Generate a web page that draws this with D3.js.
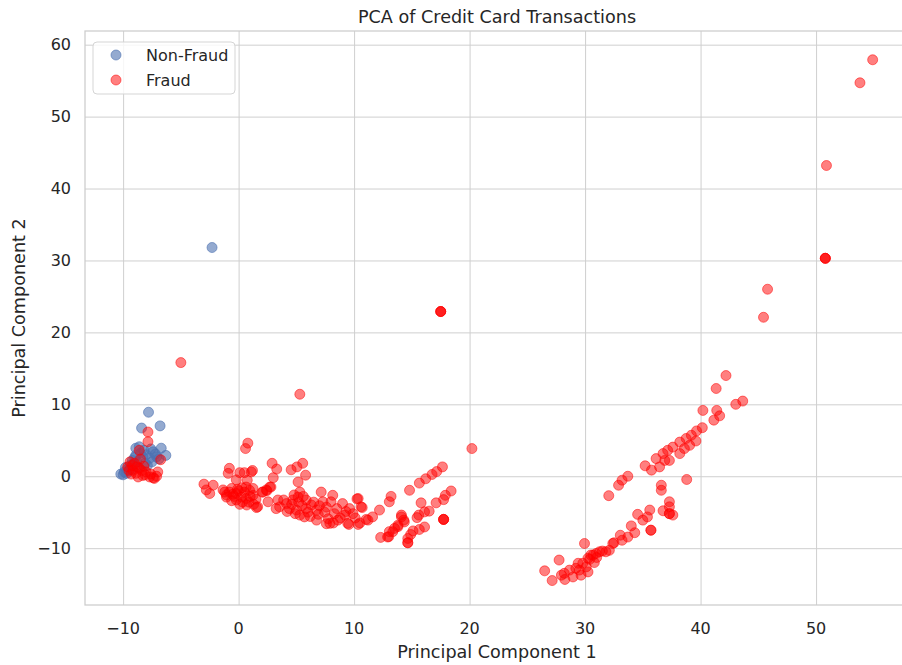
<!DOCTYPE html>
<html>
<head>
<meta charset="utf-8">
<script src="https://cdn.jsdelivr.net/npm/d3@7"></script>
<style>
  body { margin: 0; background: #fff; }
  text { font-family: "DejaVu Sans", sans-serif; fill: #262626; }
  .grid line { stroke: #cfcfcf; stroke-width: 1; }
  .grid path { display: none; }
</style>
</head>
<body>
<svg width="902" height="665"></svg>
<script>
// Non-Fraud points (PC1, PC2)
var nonFraudX = [-7.8,-8.4,-6.8,-8.9,-6.7,-6.3,-7.4,-9.9,-10.0,-9.2,-9.4,-8.3,-7.7,-7.1,-8.6,-8.1,-2.3,-9.6,-9.0,-8.8,-8.0,-7.5,-7.9,-9.7,-9.3,-8.5,-7.2,-6.9,-7.6,-8.2,-9.1,-8.7,-10.2,-9.8,-8.9];
var nonFraudY = [8.9,6.7,7.0,3.9,3.9,2.9,3.4,0.6,0.2,2.2,1.5,2.7,2.5,2.7,4.1,1.8,31.8,1.0,2.6,2.0,3.0,2.0,1.5,0.4,0.9,3.2,3.1,2.4,3.8,3.6,1.8,1.3,0.3,1.2,2.9];

// Fraud points (PC1, PC2)
var fraudX = [
  // left cluster
  -7.85,-7.85,-8.6,-6.75,-7.0,-7.3,-9.6,-9.15,-8.9,-8.3,-7.7,-9.4,-9.0,-8.6,-8.0,-7.4,-9.2,-8.8,-8.4,-9.3,-8.1,-7.6,-8.7,-9.5,-8.2,-8.5,-7.1,
  // outliers
  -5.0,5.3,17.5,17.5,17.5,20.2,50.8,50.8,50.8,50.9,53.8,54.9,45.8,45.45,42.2,
  // middle group
  0.8,0.6,-0.8,-0.9,0.1,0.5,1.1,1.2,0.75,-0.2,2.9,3.3,3.0,2.8,2.45,2.05,1.25,4.55,5.05,5.55,5.8,5.15,-3.0,-2.8,-2.5,-2.2,-1.35,-1.05,
  -0.8,-0.2,0.25,0.65,-0.2,0.35,-1.05,-0.6,0.95,1.25,0.65,-0.4,0.0,0.5,0.1,0.9,-0.6,1.5,0.3,-1.2,1.0,-0.1,0.7,1.3,-0.5,
  1.65,1.55,2.55,3.4,3.55,3.25,2.1,2.7,2.4,
  4.15,4.7,5.15,5.3,4.4,5.0,5.3,5.7,5.85,5.85,6.3,6.75,6.75,7.15,7.3,7.45,7.75,8.15,8.0,8.3,7.9,8.6,9.0,9.2,9.6,9.45,9.9,10.35,10.6,10.5,11.2,11.6,12.2,
  4.6,5.5,4.9,6.0,6.5,5.2,4.2,3.9,6.2,7.0,5.6,4.8,6.9,7.6,8.5,8.8,9.3,10.1,8.2,7.6,10.7,10.25,11.05,9.55,10.35,
  13.05,13.2,12.3,13.0,13.35,13.8,14.1,14.35,14.1,14.3,13.8,13.5,13.05,12.9,14.8,15.65,16.2,16.75,17.15,17.65,15.8,16.5,16.1,15.6,15.45,16.1,15.65,15.1,14.9,14.65,14.65,14.65,17.1,17.75,17.9,18.4,17.75,17.75,17.75,
  // right diagonal
  41.35,43.65,43.05,40.2,41.4,41.15,41.65,40.15,39.65,39.2,38.75,38.2,37.6,37.15,36.75,36.15,36.9,37.3,36.45,35.75,35.2,38.2,38.6,39.05,39.6,
  33.7,33.2,32.9,32.05,38.8,36.6,36.6,37.3,37.3,37.3,37.3,37.6,36.75,35.6,35.7,35.7,34.55,35.0,35.4,34.0,34.3,33.7,33.05,33.2,32.5,32.1,31.8,
  30.95,30.5,30.25,29.95,29.8,29.4,29.5,28.65,28.2,27.95,27.75,26.5,27.15,28.25,28.95,29.65,30.25,30.1,30.4,30.7,31.25,32.4,31.0,29.2,31.5,30.8
];
var fraudY = [
  6.15,4.8,3.6,2.3,0.6,-0.3,1.3,0.8,0.4,0.1,-0.1,2.0,1.8,1.1,0.6,-0.2,1.5,1.3,0.8,0.3,0.2,0.3,-0.1,0.8,1.4,2.4,0.0,
  15.8,11.4,22.9,22.9,22.9,3.85,30.3,30.3,30.3,43.2,54.7,57.9,26.0,22.1,14.0,
  4.6,3.85,1.1,0.4,0.5,0.5,0.6,0.8,-0.55,-0.5,1.8,1.0,-0.2,-1.5,-2.0,-2.2,-1.7,0.9,1.3,1.8,0.15,-0.8,-1.1,-1.9,-2.4,-1.25,-1.9,-2.9,
  -2.2,-2.4,-2.9,-3.1,-3.3,-3.6,-2.6,-1.7,-1.95,-2.65,-1.5,-2.8,-2.0,-2.2,-3.9,-3.6,-3.4,-3.2,-1.6,-2.2,-2.8,-1.8,-4.0,-3.9,-2.5,
  -4.25,-4.35,-3.55,-3.3,-4.25,-4.5,-2.2,-1.5,-1.9,
  -3.8,-3.3,-2.9,-2.2,-4.5,-4.7,-5.4,-5.65,-4.5,-3.3,-4.0,-4.7,-6.1,-2.2,-3.55,-5.0,-5.9,-2.65,-3.55,-5.2,-6.55,-6.1,-3.8,-5.4,-4.5,-6.55,-5.2,-3.1,-4.25,-6.5,-6.1,-5.65,-4.7,
  -3.9,-4.1,-5.2,-5.0,-3.6,-3.6,-4.9,-3.3,-5.6,-4.1,-2.8,-2.6,-5.3,-4.3,-4.5,-5.8,-4.9,-5.8,-6.5,-6.6,-4.35,-3.15,-6.0,-6.7,-6.7,
  -3.55,-2.8,-8.5,-8.4,-7.7,-7.0,-5.65,-6.35,-5.4,-6.1,-6.8,-7.25,-7.7,-8.45,-1.95,-0.95,-0.35,0.25,0.65,1.3,-3.7,-4.85,-4.95,-5.4,-5.75,-7.05,-7.4,-7.6,-8.1,-8.65,-9.25,-9.25,-3.7,-3.25,-2.65,-2.05,-6.0,-6.0,-6.0,
  12.2,10.45,10.0,9.15,9.15,7.8,8.4,6.75,6.3,5.7,5.25,4.75,4.05,3.6,3.15,2.45,2.2,2.2,1.3,0.85,1.45,3.15,3.85,4.3,4.9,
  0.0,-0.55,-1.25,-2.7,-0.45,-1.25,-1.95,-3.55,-4.25,-5.2,-5.2,-5.4,-4.8,-4.7,-7.5,-7.5,-5.3,-6.1,-5.65,-6.9,-7.85,-8.45,-8.2,-8.9,-9.25,-10.3,-10.5,
  -10.75,-10.95,-11.4,-9.35,-12.1,-12.1,-13.05,-13.05,-13.5,-13.75,-11.65,-13.15,-14.5,-14.35,-14.0,-13.75,-13.3,-12.6,-11.55,-10.95,-10.5,-9.35,-11.3,-12.8,-10.4,-12.0
];

var xTicks = [-10, 0, 10, 20, 30, 40, 50];
var yTicks = [-10, 0, 10, 20, 30, 40, 50, 60];
var seriesNames = ["Non-Fraud", "Fraud"];
var seriesColors = ["#4c72b0", "red"];
var seriesAlpha = [0.6, 0.5];

var svg = d3.select("svg"),
    margin = {top: 31, right: -3, bottom: 60, left: 85},
    width = svg.attr("width") - margin.left - margin.right,
    height = svg.attr("height") - margin.top - margin.bottom;

var x = d3.scaleLinear().domain([-13.3, 57.7]).range([0, width]);
var y = d3.scaleLinear().domain([-17.9, 61.9]).range([height, 0]);

var g = svg.append("g")
    .attr("transform", "translate(" + margin.left + "," + margin.top + ")");

// grid lines
g.append("g").attr("class", "grid")
    .attr("transform", "translate(0," + height + ")")
    .call(d3.axisBottom(x).tickValues(xTicks).tickSize(-height).tickFormat(""));
g.append("g").attr("class", "grid")
    .call(d3.axisLeft(y).tickValues(yTicks).tickSize(-width).tickFormat(""));

// spines
g.append("rect")
    .attr("width", width).attr("height", height)
    .attr("fill", "none").attr("stroke", "#cccccc").attr("stroke-width", 1.25);

// tick labels
g.selectAll(".xlab").data(xTicks).enter().append("text")
    .attr("x", d => x(d)).attr("y", height + 29)
    .attr("text-anchor", "middle").style("font-size", "16px")
    .text(d => d3.format("d")(d));
g.selectAll(".ylab").data(yTicks).enter().append("text")
    .attr("x", -14).attr("y", d => y(d)).attr("dy", "0.35em")
    .attr("text-anchor", "end").style("font-size", "16px")
    .text(d => d3.format("d")(d));

// points
var nonFraud = nonFraudX.map((v, i) => [v, nonFraudY[i]]);
var fraud = fraudX.map((v, i) => [v, fraudY[i]]);

[nonFraud, fraud].forEach(function(data, k) {
  g.append("g").selectAll("circle").data(data).enter().append("circle")
      .attr("cx", d => x(d[0]))
      .attr("cy", d => y(d[1]))
      .attr("r", 5)
      .attr("fill", seriesColors[k])
      .attr("fill-opacity", seriesAlpha[k])
      .attr("stroke", seriesColors[k])
      .attr("stroke-opacity", seriesAlpha[k])
      .attr("stroke-width", 1);
});

// axis labels + title
svg.append("text")
    .attr("x", 497).attr("y", 658)
    .attr("text-anchor", "middle").style("font-size", "17.6px")
    .text("Principal Component 1");
svg.append("text")
    .attr("transform", "translate(25," + (margin.top + y(22)) + ") rotate(-90)")
    .attr("text-anchor", "middle").style("font-size", "17.6px")
    .text("Principal Component 2");
svg.append("text")
    .attr("x", 497).attr("y", 23)
    .attr("text-anchor", "middle").style("font-size", "17.6px")
    .text("PCA of Credit Card Transactions");

// legend
var legend = svg.append("g").attr("transform", "translate(93,42)");
legend.append("rect")
    .attr("width", 142).attr("height", 52).attr("rx", 4)
    .attr("fill", "white").attr("fill-opacity", 0.8)
    .attr("stroke", "#d5d5d5");
seriesNames.forEach(function(name, k) {
  legend.append("circle")
      .attr("cx", 23).attr("cy", 13 + k * 25).attr("r", 5)
      .attr("fill", seriesColors[k]).attr("fill-opacity", seriesAlpha[k])
      .attr("stroke", seriesColors[k]).attr("stroke-opacity", seriesAlpha[k]);
  legend.append("text")
      .attr("x", 53).attr("y", 13 + k * 25).attr("dy", "0.35em")
      .style("font-size", "16px")
      .text(name);
});
</script>
</body>
</html>
